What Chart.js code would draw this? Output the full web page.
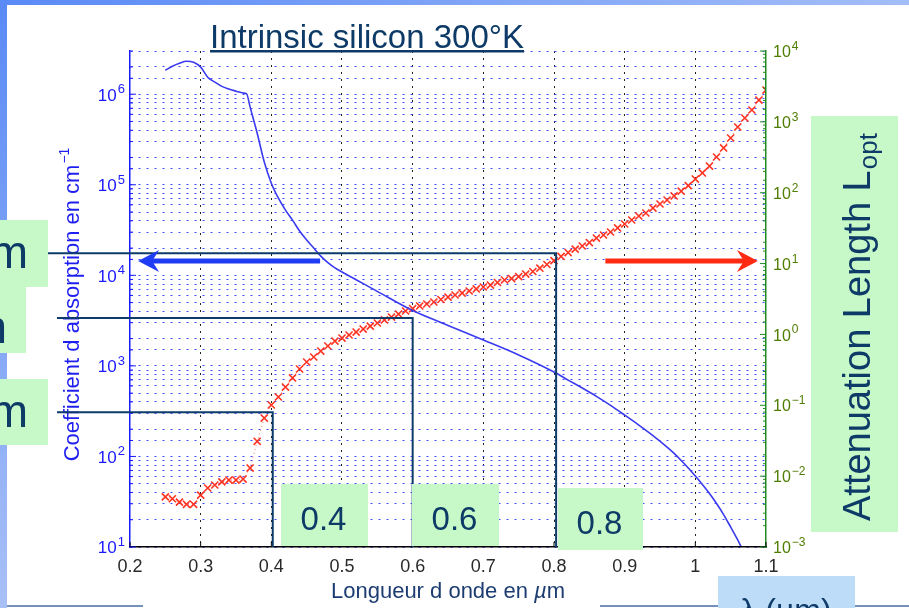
<!DOCTYPE html>
<html>
<head>
<meta charset="utf-8">
<script src="https://cdn.jsdelivr.net/npm/chart.js@4.4.1/dist/chart.umd.min.js"></script>
<style>
  html, body { margin: 0; padding: 0; background: #fff; }
  #wrap { width: 909px; height: 608px; position: relative; }
</style>
</head>
<body>
<div id="wrap"><canvas id="chart"></canvas></div>
<script>
// Longueur d'onde (µm) et longueur d'atténuation (µm) - courbe rouge
const lambdaRed = [0.25, 0.26, 0.27, 0.28, 0.29, 0.30, 0.31, 0.32, 0.33, 0.34,
    0.35, 0.36, 0.37, 0.38, 0.39, 0.40, 0.41, 0.42, 0.43, 0.44,
    0.45, 0.46, 0.47, 0.48, 0.49, 0.50, 0.51, 0.52, 0.53, 0.54,
    0.55, 0.56, 0.57, 0.58, 0.59, 0.60, 0.61, 0.62, 0.63, 0.64,
    0.65, 0.66, 0.67, 0.68, 0.69, 0.70, 0.71, 0.72, 0.73, 0.74,
    0.75, 0.76, 0.77, 0.78, 0.79, 0.80, 0.81, 0.82, 0.83, 0.84,
    0.85, 0.86, 0.87, 0.88, 0.89, 0.90, 0.91, 0.92, 0.93, 0.94,
    0.95, 0.96, 0.97, 0.98, 0.99, 1.00, 1.01, 1.02, 1.03, 1.04,
    1.05, 1.06, 1.07, 1.08, 1.09, 1.10];
const lengthRed = [0.0051, 0.0048, 0.0043, 0.0040, 0.0040, 0.0054, 0.0068, 0.0075, 0.0083, 0.0088,
    0.0088, 0.0091, 0.013, 0.031, 0.066, 0.101, 0.131, 0.181, 0.243, 0.325,
    0.408, 0.480, 0.583, 0.687, 0.807, 0.889, 0.982, 1.08, 1.19, 1.31,
    1.45, 1.60, 1.76, 1.94, 2.14, 2.32, 2.52, 2.69, 2.87, 3.11,
    3.37, 3.60, 3.84, 4.10, 4.38, 4.67, 4.98, 5.41, 5.86, 6.15,
    6.56, 7.12, 7.73, 8.6, 9.7, 11.0, 12.6, 14.3, 16.0, 17.7,
    19.8, 22.9, 25.3, 27.9, 31.8, 36.2, 41.2, 46.9, 51.7, 60.8,
    69.3, 78.9, 90, 105, 126, 156, 190, 238, 319, 428,
    592, 846, 1133, 1469, 2032, 2812];

// Coefficient d'absorption (cm-1) - courbe bleue
const lambdaBlue = [0.25, 0.26, 0.27, 0.28, 0.29, 0.30, 0.31, 0.32, 0.33, 0.34,
    0.35, 0.36, 0.365, 0.37, 0.38, 0.39, 0.40, 0.41, 0.42, 0.43,
    0.44, 0.45, 0.46, 0.47, 0.48, 0.49, 0.50, 0.52, 0.55, 0.60,
    0.65, 0.70, 0.75, 0.80, 0.82, 0.84, 0.86, 0.88, 0.90, 0.92,
    0.94, 0.96, 0.97, 0.98, 0.99, 1.00, 1.01, 1.02, 1.03, 1.04,
    1.05, 1.06, 1.065];
const alphaBlue = [1.84e6, 2.04e6, 2.20e6, 2.31e6, 2.25e6, 1.99e6, 1.54e6, 1.36e6, 1.22e6, 1.14e6,
    1.08e6, 1.03e6, 1.01e6, 7.2e5, 3.7e5, 1.78e5, 1.04e5, 7.1e4, 5.25e4, 4.07e4,
    3.08e4, 2.45e4, 2.0e4, 1.63e4, 1.38e4, 1.21e4, 1.09e4, 8950, 6650, 4080,
    2800, 1930, 1320, 855, 697, 569, 460, 366, 286, 222,
    170, 127, 108, 90.1, 74.5, 60.8, 49.0, 38.9, 30.2, 22.8,
    16.6, 11.95, 10];

// Graduations
const xTickValues = [0.2, 0.3, 0.4, 0.5, 0.6, 0.7, 0.8, 0.9, 1.0, 1.1];
const xTickLabels = ['0.2', '0.3', '0.4', '0.5', '0.6', '0.7', '0.8', '0.9', '1', '1.1'];
const leftExponents = [1, 2, 3, 4, 5, 6];
const rightExponents = [-3, -2, -1, 0, 1, 2, 3, 4];

// Repères (lambda, longueur d'atténuation) et étiquettes des cadres
const guideLambda = [0.402, 0.6, 0.803];
const guideLength = [0.08, 1.7, 14];
const boxLabels = ['0.4', '0.6', '0.8'];

const FONT = '"Liberation Sans", Arial, Helvetica, sans-serif';
const NAVY = '#0d3a66';
const MINT = '#c7f8c7';

function pow10Label(ctx, x, y, exp, size, color, align) {
    const base = '10';
    const sup = exp < 0 ? '\u2212' + (-exp) : String(exp);
    const supSize = Math.round(size * 0.74);
    ctx.font = size + 'px ' + FONT;
    const wb = ctx.measureText(base).width;
    ctx.font = supSize + 'px ' + FONT;
    const ws = ctx.measureText(sup).width;
    const x0 = align === 'right' ? x - wb - ws - 1 : x;
    ctx.fillStyle = color;
    ctx.textAlign = 'left';
    ctx.textBaseline = 'alphabetic';
    ctx.font = size + 'px ' + FONT;
    ctx.fillText(base, x0, y + size * 0.38);
    ctx.font = supSize + 'px ' + FONT;
    ctx.fillText(sup, x0 + wb + 1, y - 1);
}

function logTicks(ctx, scale, xEdge, dir, color) {
    ctx.save();
    ctx.strokeStyle = color;
    ctx.lineWidth = 1;
    scale.ticks.forEach(t => {
        const py = scale.getPixelForValue(t.value);
        const lg = Math.log10(t.value);
        const len = Math.abs(lg - Math.round(lg)) < 1e-6 ? 6 : 3;
        ctx.beginPath();
        ctx.moveTo(xEdge, py);
        ctx.lineTo(xEdge + dir * len, py);
        ctx.stroke();
    });
    ctx.restore();
}

function arrow(ctx, x1, x2, y, color, w) {
    const d = Math.sign(x2 - x1);
    ctx.save();
    ctx.strokeStyle = color;
    ctx.fillStyle = color;
    ctx.lineWidth = w;
    ctx.beginPath();
    ctx.moveTo(x1, y);
    ctx.lineTo(x2 - d * 8, y);
    ctx.stroke();
    ctx.beginPath();
    ctx.moveTo(x2, y);
    ctx.lineTo(x2 - d * 21, y - 11);
    ctx.lineTo(x2 - d * 14, y);
    ctx.lineTo(x2 - d * 21, y + 11);
    ctx.closePath();
    ctx.fill();
    ctx.restore();
}

function box(ctx, x, y, w, h, color) {
    ctx.fillStyle = color;
    ctx.fillRect(x, y, w, h);
}

const slidePlugin = {
    id: 'slide',
    beforeDraw(chart) {
        const ctx = chart.ctx;
        ctx.save();
        ctx.fillStyle = '#fff';
        ctx.fillRect(0, 0, chart.width, chart.height);
        let g = ctx.createLinearGradient(0, 0, chart.width, 0);
        g.addColorStop(0, '#5a8af6');
        g.addColorStop(1, '#a3bdf7');
        ctx.fillStyle = g;
        ctx.fillRect(0, 0, chart.width, 5);
        g = ctx.createLinearGradient(0, 0, 0, chart.height);
        g.addColorStop(0, '#5a8af6');
        g.addColorStop(1, '#a8c0f6');
        ctx.fillStyle = g;
        ctx.fillRect(0, 0, 7, chart.height);
        ctx.restore();
    },
    afterDraw(chart) {
        const ctx = chart.ctx;
        const { x, y, y2 } = chart.scales;
        const ca = chart.chartArea;
        ctx.save();

        // graduations intérieures
        logTicks(ctx, y, ca.left, 1, '#1a1aff');
        logTicks(ctx, y2, ca.right, -1, '#1f8a1f');
        ctx.strokeStyle = '#000';
        ctx.lineWidth = 1;
        xTickValues.forEach(v => {
            const px = x.getPixelForValue(v);
            ctx.beginPath();
            ctx.moveTo(px, ca.bottom);
            ctx.lineTo(px, ca.bottom - 5);
            ctx.stroke();
        });

        // étiquettes des axes
        leftExponents.forEach(e => pow10Label(ctx, 125, y.getPixelForValue(Math.pow(10, e)), e, 17, '#1a1aff', 'right'));
        rightExponents.forEach(e => pow10Label(ctx, 773, y2.getPixelForValue(Math.pow(10, e)), e, 16, '#4f7d00', 'left'));
        ctx.fillStyle = '#2a2a2a';
        ctx.font = '18px ' + FONT;
        ctx.textAlign = 'center';
        ctx.textBaseline = 'alphabetic';
        xTickValues.forEach((v, i) => ctx.fillText(xTickLabels[i], x.getPixelForValue(v), 572));

        // titre de l'axe x
        ctx.fillStyle = '#1d3d72';
        ctx.font = '22px ' + FONT;
        const t1 = 'Longueur d onde en ';
        const w1 = ctx.measureText(t1).width;
        ctx.font = 'italic 22px ' + FONT;
        const w2 = ctx.measureText('\u00b5').width;
        ctx.font = '22px ' + FONT;
        const w3 = ctx.measureText('m').width;
        let sx = 448 - (w1 + w2 + w3) / 2;
        ctx.textAlign = 'left';
        ctx.fillText(t1, sx, 598);
        ctx.font = 'italic 22px ' + FONT;
        ctx.fillText('\u00b5', sx + w1, 598);
        ctx.font = '22px ' + FONT;
        ctx.fillText('m', sx + w1 + w2, 598);

        // titre de l'axe y gauche
        ctx.save();
        ctx.translate(79, 305);
        ctx.rotate(-Math.PI / 2);
        ctx.fillStyle = '#1e1ef0';
        ctx.font = '22px ' + FONT;
        const ty = 'Coefficient d absorption en cm';
        const wy = ctx.measureText(ty).width;
        ctx.font = '14px ' + FONT;
        const wsup = ctx.measureText('\u22121').width;
        const y0 = -(wy + wsup) / 2;
        ctx.font = '22px ' + FONT;
        ctx.fillText(ty, y0, 0);
        ctx.font = '14px ' + FONT;
        ctx.fillText('\u22121', y0 + wy + 1, -10);
        ctx.restore();

        // titre
        ctx.fillStyle = NAVY;
        ctx.font = '33px ' + FONT;
        ctx.textAlign = 'left';
        const title = 'Intrinsic silicon 300\u00b0K';
        const tw = ctx.measureText(title).width;
        ctx.fillText(title, 210, 48);
        ctx.fillRect(210, 50, tw, 2.5);

        // repères
        ctx.strokeStyle = '#0e3c6a';
        ctx.lineWidth = 2;
        const leftEnds = [57, 57, 48];
        guideLambda.forEach((l, i) => {
            const gx = x.getPixelForValue(l);
            const gy = y2.getPixelForValue(guideLength[i]);
            ctx.beginPath();
            ctx.moveTo(leftEnds[i], gy);
            ctx.lineTo(gx, gy);
            ctx.lineTo(gx, ca.bottom);
            ctx.stroke();
        });

        // flèches
        const ay = y2.getPixelForValue(10.9);
        arrow(ctx, x.getPixelForValue(0.469), x.getPixelForValue(0.2115), ay, '#1f3cf5', 5);
        arrow(ctx, x.getPixelForValue(0.8727), x.getPixelForValue(1.0885), ay, '#ff2a12', 5);

        // cadres verts à gauche
        box(ctx, 0, 220, 48, 67, MINT);
        box(ctx, 0, 287, 26, 66, MINT);
        box(ctx, 0, 379, 48, 66, MINT);
        ctx.fillStyle = NAVY;
        ctx.font = '46px ' + FONT;
        ctx.textAlign = 'right';
        ctx.fillText('\u00b5m', 28, 268);
        ctx.fillText('\u00b5m', 7, 343);
        ctx.fillText('\u00b5m', 28, 427);

        // cadres des longueurs d'onde
        const boxes = [[281, 484, 87, 62], [412, 484, 87, 62], [558, 488, 85, 62]];
        ctx.font = '33px ' + FONT;
        ctx.textAlign = 'center';
        boxes.forEach((b, i) => {
            box(ctx, b[0], b[1], b[2], b[3], MINT);
            ctx.fillStyle = NAVY;
            ctx.fillText(boxLabels[i], b[0] + b[2] / 2 - 1, b[1] + 46);
        });

        // cadre de droite
        box(ctx, 811, 116, 87, 416, MINT);
        ctx.save();
        ctx.translate(870, 521);
        ctx.rotate(-Math.PI / 2);
        ctx.fillStyle = NAVY;
        ctx.textAlign = 'left';
        ctx.font = '38px ' + FONT;
        const ta = 'Attenuation Length L';
        const wa = ctx.measureText(ta).width;
        ctx.fillText(ta, 0, 0);
        ctx.font = '26px ' + FONT;
        ctx.fillText('opt', wa + 1, 7);
        ctx.restore();

        // bas de la diapositive
        ctx.fillStyle = '#7391b9';
        ctx.fillRect(7, 605, 136, 2);
        ctx.fillRect(600, 605, 118, 2);
        ctx.fillRect(855, 605, 54, 2);
        box(ctx, 718, 576, 137, 32, '#bcdcf8');
        ctx.fillStyle = NAVY;
        ctx.font = '32px ' + FONT;
        ctx.textAlign = 'center';
        ctx.fillText('\u03bb (\u00b5m)', 786, 621);

        ctx.restore();
    }
};

const xGridColor = c => {
    const v = c.tick ? c.tick.value : null;
    return (v === null || v < 0.25 || v > 1.05) ? 'rgba(0,0,0,0)' : '#222';
};

new Chart(document.getElementById('chart'), {
    type: 'line',
    data: {
        datasets: [{
            label: 'Coefficient d absorption',
            data: lambdaBlue.map((l, i) => ({ x: l, y: alphaBlue[i] })),
            yAxisID: 'y',
            borderColor: '#3a3aef',
            borderWidth: 1.6,
            pointRadius: 0,
            cubicInterpolationMode: 'monotone',
            fill: false
        }, {
            label: 'Attenuation Length',
            data: lambdaRed.map((l, i) => ({ x: l, y: lengthRed[i] })),
            yAxisID: 'y2',
            borderColor: 'rgba(255,60,40,0.7)',
            borderWidth: 1,
            borderDash: [1, 3],
            pointStyle: 'crossRot',
            pointRadius: 5,
            pointBorderColor: '#ff3322',
            pointBorderWidth: 1.6,
            tension: 0,
            fill: false
        }]
    },
    options: {
        responsive: true,
        maintainAspectRatio: false,
        animation: false,
        events: [],
        layout: { padding: { top: 51, left: 0, right: 0, bottom: 0 } },
        plugins: { legend: { display: false }, tooltip: { enabled: false } },
        scales: {
            x: {
                type: 'linear',
                min: 0.2,
                max: 1.1,
                ticks: { display: false, stepSize: 0.1 },
                grid: { color: xGridColor, lineWidth: 1, drawTicks: false },
                border: { color: '#000', width: 1.5, dash: [2, 5], z: 1 },
                afterFit: s => { s.height = 61; }
            },
            y: {
                type: 'logarithmic',
                position: 'left',
                min: 10,
                max: 3e6,
                ticks: { display: false },
                grid: { color: '#3d4dff', lineWidth: 1, drawTicks: false },
                border: { color: '#1a1aff', width: 1.5, dash: [2, 6], z: 1 },
                afterFit: s => { s.width = 130; }
            },
            y2: {
                type: 'logarithmic',
                position: 'right',
                min: 1e-3,
                max: 1e4,
                ticks: { display: false },
                grid: { display: false, drawTicks: false },
                border: { color: '#1f8a1f', width: 1.5, z: 1 },
                afterFit: s => { s.width = 143; }
            }
        }
    },
    plugins: [slidePlugin]
});
</script>
</body>
</html>
